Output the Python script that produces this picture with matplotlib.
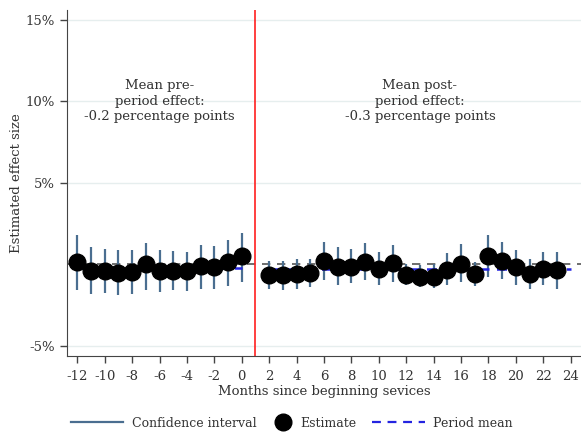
import numpy as np
import matplotlib.pyplot as plt
from matplotlib.lines import Line2D

# Event-study estimates (percentage points), by month relative to start
pre_months = np.arange(-12, 1)
pre_est = [0.12, -0.4, -0.4, -0.52, -0.46, 0.02, -0.4, -0.4, -0.4, -0.11, -0.15, 0.15, 0.5]
pre_lo = [-1.6, -1.8, -1.75, -1.9, -1.8, -1.6, -1.7, -1.6, -1.65, -1.5, -1.54, -1.34, -1.1]
pre_hi = [1.8, 1.07, 0.97, 0.9, 0.9, 1.34, 0.87, 0.82, 0.77, 1.18, 1.12, 1.48, 1.9]

post_months = np.arange(2, 24)
post_est = [-0.66, -0.66, -0.6, -0.52, 0.22, -0.15, -0.15, 0.15, -0.31, 0.09, -0.63,
            -0.76, -0.76, -0.36, 0.05, -0.62, 0.5, 0.22, -0.15, -0.6, -0.31, -0.36]
post_lo = [-1.48, -1.58, -1.48, -1.38, -0.97, -1.28, -1.17, -0.97, -1.28, -1.07, -1.28,
           -1.38, -1.42, -1.28, -1.07, -1.34, -0.76, -0.87, -1.28, -1.48, -1.28, -1.48]
post_hi = [0.2, 0.2, 0.3, 0.36, 1.38, 1.04, 0.97, 1.32, 0.73, 1.18, 0.05,
           -0.05, 0.05, 0.67, 1.24, 0.15, 1.79, 1.38, 0.87, 0.36, 0.73, 0.73]

pre_mean = -0.2
post_mean = -0.3
pre_span = [-12, 0]
post_span = [2, 24]
start_line = 1

yticks = [-5, 5, 10, 15]
xticks = np.arange(-12, 25, 2)

txt = '#333333'
ci_col = '#4a6e90'
mean_col = '#2424e0'
plt.rcParams['font.family'] = ['DejaVu Serif']
plt.rcParams['font.size'] = 9.5
plt.rcParams['axes.unicode_minus'] = False

fig = plt.figure(figsize=(5.81, 4.34), dpi=100)
ax = fig.add_axes([0.1153, 0.1804, 0.8847, 0.7966])

for y in yticks:
    ax.axhline(y, color='#e6eeee', lw=1, zorder=0)
ax.axhline(0, color='#555555', lw=1.2, ls=(0, (5, 4)), zorder=1)
ax.axvline(start_line, color='#ff1f1f', lw=1.2, zorder=1)

months = np.concatenate([pre_months, post_months])
est = np.array(pre_est + post_est)
lo = np.array(pre_lo + post_lo)
hi = np.array(pre_hi + post_hi)

ax.vlines(months, lo, hi, color=ci_col, lw=1.6, zorder=2)
ax.plot(pre_span, [pre_mean, pre_mean], color=mean_col, lw=1.8, ls=(0, (4, 3)), zorder=3)
ax.plot(post_span, [post_mean, post_mean], color=mean_col, lw=1.8, ls=(0, (4, 3)), zorder=3)
ax.plot(months, est, 'o', color='black', ms=12, zorder=4)

ax.text(-6, 10, 'Mean pre-\nperiod effect:\n-0.2 percentage points',
        ha='center', va='center', color=txt, linespacing=1.25)
ax.text(13, 10, 'Mean post-\nperiod effect:\n-0.3 percentage points',
        ha='center', va='center', color=txt, linespacing=1.25)

ax.set_xlim(-12.75, 24.75)
ax.set_ylim(-5.6, 15.6)
ax.set_yticks(yticks)
ax.set_yticklabels([f'{v}%' for v in yticks])
ax.set_xticks(xticks)
ax.tick_params(colors='#444444', labelcolor=txt, length=5, width=1)
ax.tick_params(axis='x', pad=5)
for s in ['top', 'right']:
    ax.spines[s].set_visible(False)
for s in ['left', 'bottom']:
    ax.spines[s].set_color('#444444')
ax.set_xlabel('Months since beginning sevices', color=txt, labelpad=2)
ax.set_ylabel('Estimated effect size', color=txt)
ax.yaxis.set_label_coords(-0.085, 0.5)

# legend entries laid out one by one so the dot gets a short handle
entries = [
    (Line2D([], [], color=ci_col, lw=1.6), 'Confidence interval', 4.2, 0.102),
    (Line2D([], [], marker='o', color='black', ls='none', ms=12), 'Estimate', 1.4, 0.452),
    (Line2D([], [], color=mean_col, lw=1.6, ls=(0, (4, 3))), 'Period mean', 4.2, 0.621),
]
for h, lab, hl, x0 in entries:
    fig.legend([h], [lab], loc='center left', bbox_to_anchor=(x0, 0.025),
               frameon=False, fontsize=9, handlelength=hl, handletextpad=0.7,
               labelcolor=txt)

fig.savefig('out.png', dpi=100)
